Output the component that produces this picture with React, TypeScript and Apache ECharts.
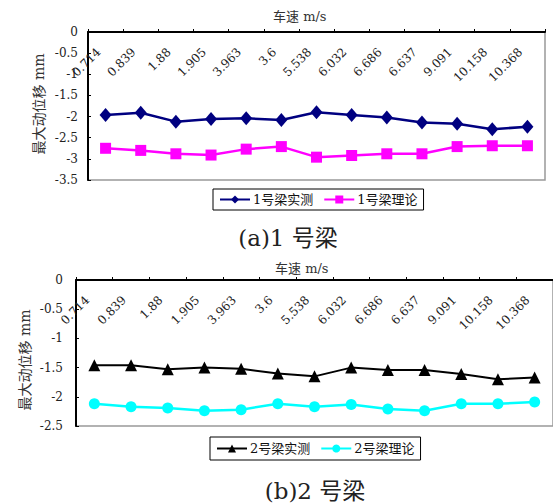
import React, { useEffect, useRef } from "react";
import * as echarts from "echarts";

const categories = ["0.714", "0.839", "1.88", "1.905", "3.963", "3.6", "5.538", "6.032", "6.686", "6.637", "9.091", "10.158", "10.368"];
const beam1Measured = [-1.96, -1.91, -2.12, -2.06, -2.04, -2.08, -1.9, -1.96, -2.02, -2.14, -2.17, -2.3, -2.24];
const beam1Theory = [-2.75, -2.8, -2.88, -2.91, -2.77, -2.71, -2.96, -2.92, -2.88, -2.88, -2.71, -2.69, -2.69];
const beam2Measured = [-1.46, -1.46, -1.53, -1.5, -1.52, -1.6, -1.65, -1.5, -1.54, -1.54, -1.61, -1.7, -1.67];
const beam2Theory = [-2.12, -2.17, -2.19, -2.24, -2.22, -2.12, -2.17, -2.13, -2.21, -2.24, -2.12, -2.12, -2.09];
const seriesNames = ["1号梁实测", "1号梁理论", "2号梁实测", "2号梁理论"];
const xName = "车速 m/s";
const yName = "最大动位移 mm";
const captions = ["(a)1 号梁", "(b)2 号梁"];

const numFont = "'DejaVu Serif', 'Noto Sans CJK SC', serif";
const cjkFont = "'DejaVu Serif', 'Noto Sans CJK SC', sans-serif";

export default function App() {
  const ref = useRef<HTMLDivElement>(null);
  useEffect(() => {
    if (!ref.current) return;
    const chart = echarts.init(ref.current, undefined, { renderer: "svg" });
    const xAxisBase = (gridIndex: number) => ({
      type: "category",
      gridIndex,
      data: categories,
      position: "top",
      boundaryGap: true,
      axisLine: { show: true, lineStyle: { color: "#000", width: 2 } },
      axisTick: { show: true, inside: false, length: 3, lineStyle: { color: "#000", width: 1 } },
      axisLabel: {
        inside: true,
        rotate: 45,
        interval: 0,
        margin: 11,
        padding: [0, 10, 0, 0],
        color: "#222",
        fontSize: 12,
        fontFamily: numFont,
      },
      splitLine: { show: false },
    });
    const yAxisBase = (gridIndex: number, min: number, margin: number) => ({
      type: "value",
      gridIndex,
      min,
      max: 0,
      interval: 0.5,
      axisLine: { show: true, lineStyle: { color: "#000", width: 2 } },
      axisTick: { show: true, inside: true, length: 3, lineStyle: { color: "#000" } },
      axisLabel: { color: "#222", fontSize: 12, fontFamily: numFont, margin },
      splitLine: { show: false },
    });
    chart.setOption({
      animation: false,
      backgroundColor: "#fff",
      grid: [
        { left: 88, top: 32, width: 457, height: 148, show: true, borderColor: "#999", borderWidth: 1.5, backgroundColor: "transparent" },
        { left: 76, top: 280, width: 478, height: 146, show: true, borderColor: "#999", borderWidth: 1.5, backgroundColor: "transparent" },
      ],
      xAxis: [xAxisBase(0), xAxisBase(1)],
      yAxis: [yAxisBase(0, -3.5, 10), yAxisBase(1, -2.5, 13)],
      legend: [
        {
          data: [seriesNames[0], seriesNames[1]],
          left: 213,
          top: 189,
          orient: "horizontal",
          itemWidth: 30,
          itemHeight: 10,
          itemGap: 10,
          padding: [4, 6],
          borderColor: "#000",
          borderWidth: 1,
          backgroundColor: "#fff",
          textStyle: { fontSize: 13, color: "#111", fontFamily: cjkFont, padding: [0, 0, 0, -2] },
        },
        {
          data: [seriesNames[2], seriesNames[3]],
          left: 210,
          top: 437,
          orient: "horizontal",
          itemWidth: 30,
          itemHeight: 10,
          itemGap: 10,
          padding: [5, 6],
          borderColor: "#000",
          borderWidth: 1,
          backgroundColor: "#fff",
          textStyle: { fontSize: 13, color: "#111", fontFamily: cjkFont, padding: [0, 0, 0, -2] },
        },
      ],
      series: [
        {
          name: seriesNames[0], type: "line", xAxisIndex: 0, yAxisIndex: 0, data: beam1Measured,
          symbol: "diamond", symbolSize: [12, 14], itemStyle: { color: "#000080" },
          lineStyle: { color: "#000080", width: 2.5 },
        },
        {
          name: seriesNames[1], type: "line", xAxisIndex: 0, yAxisIndex: 0, data: beam1Theory,
          symbol: "rect", symbolSize: 11, itemStyle: { color: "#ff00ff" },
          lineStyle: { color: "#ff00ff", width: 2.5 },
        },
        {
          name: seriesNames[2], type: "line", xAxisIndex: 1, yAxisIndex: 1, data: beam2Measured,
          symbol: "triangle", symbolSize: 12, itemStyle: { color: "#000" },
          lineStyle: { color: "#000", width: 2 },
        },
        {
          name: seriesNames[3], type: "line", xAxisIndex: 1, yAxisIndex: 1, data: beam2Theory,
          symbol: "circle", symbolSize: 11, itemStyle: { color: "#00ffff" },
          lineStyle: { color: "#00ffff", width: 2.5 },
        },
      ],
      graphic: [
        { type: "text", x: 273, y: 16, style: { text: xName, fill: "#333", font: "13px " + cjkFont, textVerticalAlign: "middle" } },
        { type: "text", x: 275, y: 268, style: { text: xName, fill: "#333", font: "13px " + cjkFont, textVerticalAlign: "middle" } },
        { type: "text", x: 39, y: 104, rotation: Math.PI / 2, style: { text: yName, font: "14px " + cjkFont, fill: "#333", textAlign: "center", textVerticalAlign: "middle" } },
        { type: "text", x: 25, y: 360, rotation: Math.PI / 2, style: { text: yName, font: "14px " + cjkFont, fill: "#333", textAlign: "center", textVerticalAlign: "middle" } },
        { type: "text", x: 288, y: 238, style: { text: captions[0], font: "23px " + cjkFont, fill: "#222", textAlign: "center", textVerticalAlign: "middle" } },
        { type: "text", x: 315, y: 491, style: { text: captions[1], font: "23px " + cjkFont, fill: "#222", textAlign: "center", textVerticalAlign: "middle" } },
      ],
    });
    return () => chart.dispose();
  }, []);
  return <div ref={ref} style={{ width: 553, height: 503, position: "absolute", left: 0, top: 0 }} />;
}
